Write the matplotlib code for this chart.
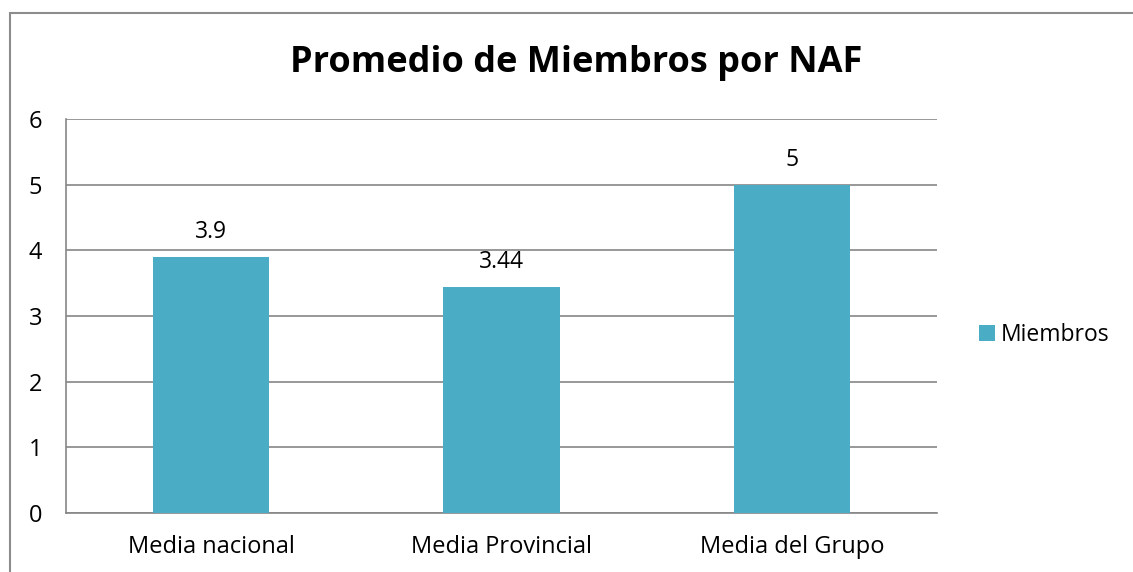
import matplotlib.pyplot as plt
from matplotlib.patches import Rectangle

categories = ['Media nacional', 'Media Provincial', 'Media del Grupo']
miembros = [3.9, 3.44, 5]
value_labels = ['3.9', '3.44', '5']
yticks = [0, 1, 2, 3, 4, 5, 6]

plt.rcParams['font.family'] = ['Open Sans', 'DejaVu Sans']

fig = plt.figure(figsize=(11.33, 5.72), dpi=100)
ax = fig.add_axes([66 / 1133, 1 - 513 / 572, (937 - 66) / 1133, (513 - 119) / 572])

# outer chart border (cut off on right and bottom like the screenshot)
fig.patches.append(Rectangle((10 / 1133, -0.1), 1.2, 1 - 13 / 572 + 0.1,
                             transform=fig.transFigure, fill=False,
                             edgecolor='#8c8c8c', linewidth=1.5))

x = range(len(categories))
bars = ax.bar(x, miembros, width=0.4, color='#4bacc6', label='Miembros', zorder=3)
for b, lab in zip(bars, value_labels):
    ax.text(b.get_x() + b.get_width() / 2, b.get_height() + 0.2, lab,
            ha='center', va='bottom', fontsize=16.5)

ax.set_xlim(-0.5, 2.5)
ax.set_ylim(0, 6)
ax.set_yticks(yticks)
ax.set_xticks(list(x))
ax.set_xticklabels(categories, fontsize=17)
ax.tick_params(axis='y', length=0, pad=17, labelsize=17)
ax.tick_params(axis='x', length=0, pad=16)
ax.grid(axis='y', color='#868686', linewidth=1.2, zorder=0)
for s in ['top', 'right']:
    ax.spines[s].set_visible(False)
for s in ['left', 'bottom']:
    ax.spines[s].set_color('#868686')
    ax.spines[s].set_linewidth(1.2)

fig.text(576 / 1133, 1 - 63 / 572, 'Promedio de Miembros por NAF',
         ha='center', va='center', fontsize=26, fontweight='bold')

fig.legend(loc='center left', bbox_to_anchor=(958 / 1133, 1 - 335 / 572),
           frameon=False, fontsize=16.5, handlelength=0.7, handleheight=0.7,
           handletextpad=0.25)

fig.savefig('out.png', dpi=100)
